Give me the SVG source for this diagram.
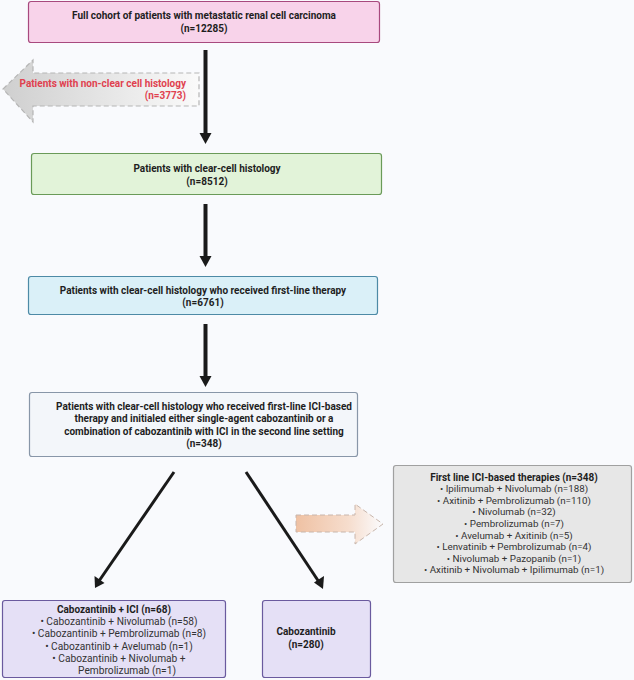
<svg xmlns="http://www.w3.org/2000/svg" width="634" height="680" viewBox="0 0 634 680">
<defs>
<style>
.t{font-family:Roboto,"Liberation Sans",Arial,sans-serif;font-size:10px;fill:#1e1e1e;text-anchor:middle}
.b{font-weight:bold}
.r{font-weight:normal;fill:#333;font-size:10.2px}
.g{font-weight:normal;fill:#333;font-size:9.8px}
.ln{stroke:#1a1a1a;fill:none}
</style>
<linearGradient id="gg" x1="0" y1="0" x2="1" y2="0">
<stop offset="0" stop-color="#cfcfcf"/>
<stop offset="1" stop-color="#fafafa"/>
</linearGradient>
<linearGradient id="og" x1="0" y1="0" x2="1" y2="0">
<stop offset="0" stop-color="#efc1a3"/>
<stop offset="0.6" stop-color="#f6ddcd"/>
<stop offset="1" stop-color="#fbfbfd"/>
</linearGradient>
</defs>
<rect width="634" height="680" fill="#f9fafd"/>

<g id="connectors">
<line class="ln" x1="205.5" y1="50" x2="205.5" y2="134" stroke-width="4"/>
<polygon points="199.5,133 211.5,133 205.5,144" fill="#1a1a1a"/>
<line class="ln" x1="205.5" y1="204" x2="205.5" y2="257" stroke-width="4"/>
<polygon points="199.5,256 211.5,256 205.5,267" fill="#1a1a1a"/>
<line class="ln" x1="205.5" y1="324" x2="205.5" y2="377" stroke-width="4"/>
<polygon points="199.5,376 211.5,376 205.5,387" fill="#1a1a1a"/>
<line class="ln" x1="174" y1="472" x2="99" y2="581" stroke-width="3"/>
<polygon points="95,588 94.5,576 104.5,583" fill="#1a1a1a"/>
<line class="ln" x1="246" y1="472" x2="319" y2="582" stroke-width="3"/>
<polygon points="323,589 314,582.5 324,576" fill="#1a1a1a"/>
</g>

<g id="noncl-arrow">
<polygon points="3,89 33,60 33,73 199,73 199,106 33,106 33,122" fill="url(#gg)" stroke="#b5b5b5" stroke-width="1.2" stroke-dasharray="5,3"/>
<text class="t b" style="fill:#e0414f;text-anchor:end" x="186" y="86.5">Patients with non-clear cell histology</text>
<text class="t b" style="fill:#e0414f;text-anchor:end" x="186" y="99">(n=3773)</text>
</g>

<g id="first-line-arrow">
<polygon points="296,515 355,515 355,504 383,524 355,544 355,532 296,532" fill="url(#og)" stroke="#c8b6ac" stroke-width="1" stroke-dasharray="5,3"/>
</g>

<g id="box1">
<rect x="28.5" y="1.5" width="351" height="41" rx="2.5" fill="#f8d3ea" stroke="#a8497e" stroke-width="1.2"/>
<text class="t b" x="204" y="18.5">Full cohort of patients with metastatic renal cell carcinoma</text>
<text class="t b" x="204" y="31.5">(n=12285)</text>
</g>

<g id="box2">
<rect x="31.5" y="153.5" width="350" height="41" rx="2.5" fill="#e2f3d9" stroke="#6a9a58" stroke-width="1.2"/>
<text class="t b" x="207" y="171.5">Patients with clear-cell histology</text>
<text class="t b" x="207" y="184.5">(n=8512)</text>
</g>

<g id="box3">
<rect x="28.5" y="276.5" width="349" height="38" rx="2.5" fill="#daf0f8" stroke="#4d8aa6" stroke-width="1.2"/>
<text class="t b" x="203" y="293.5">Patients with clear-cell histology who received first-line therapy</text>
<text class="t b" x="203" y="305.5">(n=6761)</text>
</g>

<g id="box4">
<rect x="29.5" y="392.5" width="328" height="64" rx="2.5" fill="#f3f6fa" stroke="#8896a8" stroke-width="1.2"/>
<text class="t b" x="204" y="410">Patients with clear-cell histology who received first-line ICI-based</text>
<text class="t b" x="204" y="422.3">therapy and initialed either single-agent cabozantinib or a</text>
<text class="t b" x="204" y="434.6">combination of cabozantinib with ICI in the second line setting</text>
<text class="t b" x="204" y="446.9">(n=348)</text>
</g>

<g id="box-firstline">
<rect x="393.5" y="465.5" width="238" height="117" rx="2.5" fill="#e7e7e7" stroke="#a0a0a0" stroke-width="1.2"/>
<text class="t b" x="514" y="480.5">First line ICI-based therapies (n=348)</text>
<text class="t g" x="514" y="492.1">•  Ipilimumab + Nivolumab (n=188)</text>
<text class="t g" x="514" y="503.7">•  Axitinib + Pembrolizumab (n=110)</text>
<text class="t g" x="514" y="515.3">•  Nivolumab (n=32)</text>
<text class="t g" x="514" y="526.9">•  Pembrolizumab (n=7)</text>
<text class="t g" x="514" y="538.5">•  Avelumab + Axitinib (n=5)</text>
<text class="t g" x="514" y="550.1">•  Lenvatinib + Pembrolizumab (n=4)</text>
<text class="t g" x="514" y="561.7">•  Nivolumab + Pazopanib (n=1)</text>
<text class="t g" x="514" y="573.3">•  Axitinib + Nivolumab + Ipilimumab (n=1)</text>
</g>

<g id="box5">
<rect x="2.5" y="600.5" width="223" height="77" rx="2.5" fill="#e5e0f6" stroke="#6a5a9e" stroke-width="1.2"/>
<text class="t b" x="114" y="613">Cabozantinib + ICI (n=68)</text>
<text class="t r" x="119" y="625.2">•  Cabozantinib + Nivolumab (n=58)</text>
<text class="t r" x="119" y="637.4">•  Cabozantinib + Pembrolizumab (n=8)</text>
<text class="t r" x="119" y="649.6">•  Cabozantinib + Avelumab (n=1)</text>
<text class="t r" x="119" y="661.8">•  Cabozantinib + Nivolumab +</text>
<text class="t r" x="127" y="674">Pembrolizumab (n=1)</text>
</g>

<g id="box6">
<rect x="262.5" y="600.5" width="108" height="77" rx="2.5" fill="#e5e0f6" stroke="#6a5a9e" stroke-width="1.2"/>
<text class="t b" x="306" y="635">Cabozantinib</text>
<text class="t b" x="306" y="647.5">(n=280)</text>
</g>
</svg>
